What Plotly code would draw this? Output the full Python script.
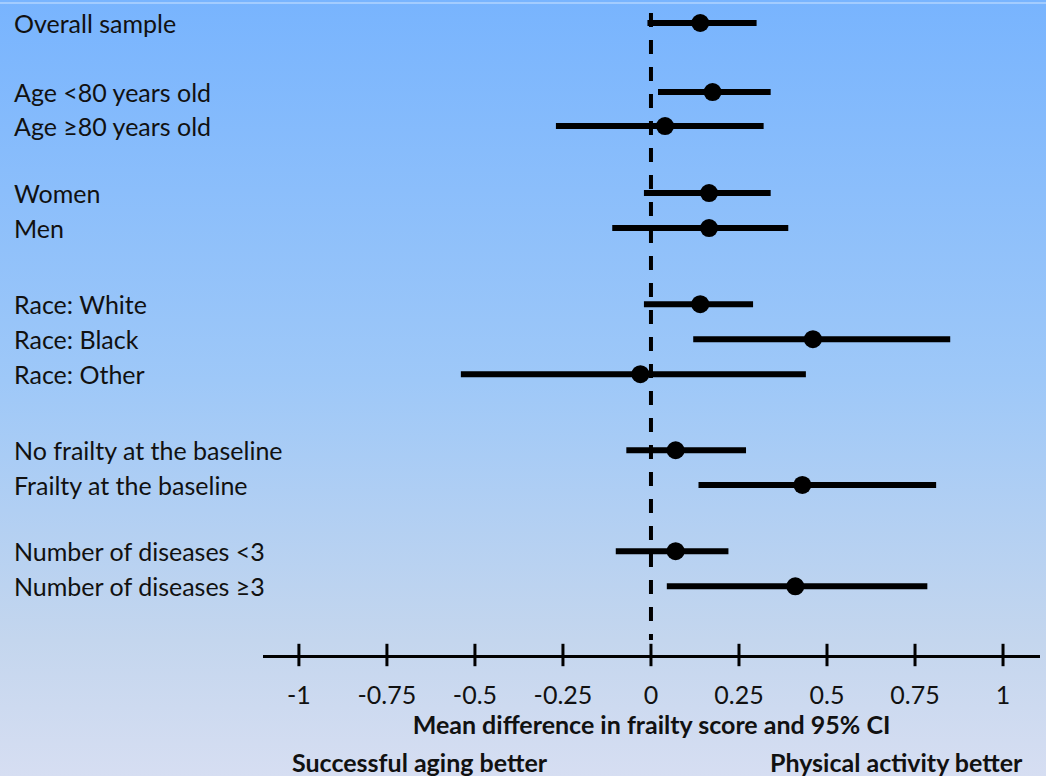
import plotly.graph_objects as go

# Subgroups and their estimates (mean difference, 95% CI)
labels = [
    "Overall sample",
    "Age <80 years old",
    "Age \u226580 years old",
    "Women",
    "Men",
    "Race: White",
    "Race: Black",
    "Race: Other",
    "No frailty at the baseline",
    "Frailty at the baseline",
    "Number of diseases <3",
    "Number of diseases \u22653",
]
estimate = [0.14, 0.175, 0.04, 0.165, 0.165, 0.14, 0.46, -0.03, 0.07, 0.43, 0.07, 0.41]
ci_low = [-0.01, 0.02, -0.27, -0.02, -0.11, -0.02, 0.12, -0.54, -0.07, 0.135, -0.10, 0.045]
ci_high = [0.30, 0.34, 0.32, 0.34, 0.39, 0.29, 0.85, 0.44, 0.27, 0.81, 0.22, 0.785]

# Vertical slot of each row (groups separated by blank space)
row_pos = [0, 1.99, 2.97, 4.9, 5.91, 8.1, 9.11, 10.12, 12.31, 13.31, 15.22, 16.23]

tick_vals = [-1, -0.75, -0.5, -0.25, 0, 0.25, 0.5, 0.75, 1]
tick_text = ["-1", "-0.75", "-0.5", "-0.25", "0", "0.25", "0.5", "0.75", "1"]

W, H = 1046, 776
FONT = "Lato, 'Open Sans', sans-serif"

x_rng = [-1.102, 1.105]
y_rng = [18.21, -0.663]

fig = go.Figure()

# Page background: vertical gradient on a full-page helper subplot
fig.add_trace(go.Scatter(
    x=[0, 1, 1, 0, 0], y=[0, 0, 1, 1, 0],
    mode="lines", fill="toself",
    line=dict(width=0),
    fillgradient=dict(
        type="vertical",
        colorscale=[[0, "rgb(214,222,242)"], [0.175, "rgb(196,214,238)"],
                    [0.51, "rgb(158,200,248)"], [1, "rgb(120,180,254)"]],
    ),
    hoverinfo="skip", showlegend=False, xaxis="x", yaxis="y",
))

# Confidence intervals with point estimates
fig.add_trace(go.Scatter(
    x=estimate, y=row_pos, mode="markers",
    marker=dict(symbol="circle", size=18, color="black"),
    error_x=dict(
        type="data", symmetric=False,
        array=[h - e for h, e in zip(ci_high, estimate)],
        arrayminus=[e - l for e, l in zip(estimate, ci_low)],
        color="black", thickness=6, width=0,
    ),
    xaxis="x2", yaxis="y2", showlegend=False, hoverinfo="skip",
))

# Tick marks crossing the axis line
fig.add_trace(go.Scatter(
    x=tick_vals, y=[y_rng[0]] * len(tick_vals), mode="markers",
    marker=dict(symbol="line-ns", size=16, line=dict(width=3, color="black")),
    cliponaxis=False, xaxis="x2", yaxis="y2", showlegend=False, hoverinfo="skip",
))

# Line of no difference
fig.add_shape(
    type="line", xref="x2", yref="y2",
    x0=0, x1=0, y0=-0.29, y1=17.78,
    line=dict(color="black", width=4, dash="14px,13px"),
    layer="below",
)

# Thin highlight along the top edge
fig.add_shape(
    type="line", xref="paper", yref="paper",
    x0=0, x1=1, y0=1 - 3 / H, y1=1 - 3 / H,
    line=dict(color="rgb(206,228,255)", width=1),
)

# Row labels
for lab, r in zip(labels, row_pos):
    fig.add_annotation(
        text=lab, x=12 / W, xref="paper", y=r, yref="y2",
        xanchor="left", yanchor="middle", showarrow=False,
        font=dict(family=FONT, size=25, color="#111111"),
    )

# Direction labels below the axis
fig.add_annotation(
    text="<b>Successful aging better</b>", x=290 / W, y=1 - 762 / H,
    xref="paper", yref="paper", xanchor="left", yanchor="middle", showarrow=False,
    font=dict(family=FONT, size=25, color="#111111"),
)
fig.add_annotation(
    text="<b>Physical activity better</b>", x=1025 / W, y=1 - 762 / H,
    xref="paper", yref="paper", xanchor="right", yanchor="middle", showarrow=False,
    font=dict(family=FONT, size=25, color="#111111"),
)

fig.update_layout(
    width=W, height=H,
    margin=dict(l=0, r=0, t=0, b=0),
    paper_bgcolor="white", plot_bgcolor="rgba(0,0,0,0)",
    showlegend=False,
    xaxis=dict(domain=[0, 1], range=[0, 1], visible=False, fixedrange=True),
    yaxis=dict(domain=[0, 1], range=[0, 1], visible=False, fixedrange=True),
    xaxis2=dict(
        domain=[263 / W, 1040 / W], range=x_rng, anchor="y2",
        showline=True, linecolor="black", linewidth=3,
        showgrid=False, zeroline=False,
        tickmode="array", tickvals=tick_vals, ticktext=tick_text,
        ticks="", ticklabelstandoff=16,
        tickfont=dict(family=FONT, size=25, color="#111111"),
        title=dict(text="<b>Mean difference in frailty score and 95% CI</b>",
                   standoff=0, font=dict(family=FONT, size=25, color="#111111")),
    ),
    yaxis2=dict(
        domain=[(H - 655) / H, 1], range=y_rng, anchor="x2",
        visible=False, showgrid=False, zeroline=False,
    ),
)

fig.write_html("out.html")
